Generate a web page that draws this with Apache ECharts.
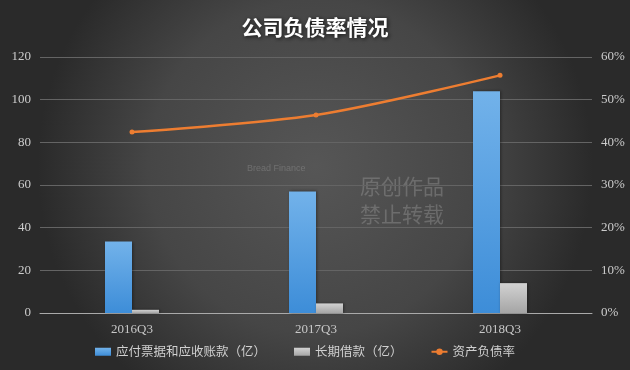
<!DOCTYPE html>
<html><head><meta charset="utf-8">
<script src="https://cdn.jsdelivr.net/npm/echarts@6/dist/echarts.min.js"></script>
<style>html,body{margin:0;padding:0;background:#333}#c{width:630px;height:370px}</style>
</head><body><div id="c"></div>
<script>
const categories = ['2016Q3', '2017Q3', '2018Q3'];
const payables = [33.5, 57, 104];
const longLoans = [1.5, 4.5, 14];
const debtRatio = [42.4, 46.4, 55.7];
const leftTicks = [0, 20, 40, 60, 80, 100, 120];
const rightTicks = [0, 10, 20, 30, 40, 50, 60];

const chart = echarts.init(document.getElementById('c'));
const serif = '"Liberation Serif", "DejaVu Serif", serif';
const cjk = '"Noto Sans CJK SC", sans-serif';
chart.setOption({
  backgroundColor: {
    type: 'radial', x: 0.5, y: 0.45, r: 0.75,
    colorStops: [{offset: 0, color: '#565656'}, {offset: 0.6, color: '#464646'}, {offset: 1, color: '#2a2a2a'}]
  },
  title: {
    text: '公司负债率情况', left: 'center', top: 12,
    textStyle: {color: '#ffffff', fontSize: 21, fontWeight: 'bold', fontFamily: cjk,
      textShadowColor: 'rgba(0,0,0,0.8)', textShadowBlur: 4, textShadowOffsetX: 1, textShadowOffsetY: 1}
  },
  graphic: [
    {type: 'text', left: 360, top: 176, style: {text: '原创作品', fill: 'rgba(170,170,170,0.35)', font: '21px "Noto Sans CJK SC"'}},
    {type: 'text', left: 360, top: 204, style: {text: '禁止转载', fill: 'rgba(170,170,170,0.35)', font: '21px "Noto Sans CJK SC"'}},
    {type: 'text', left: 247, top: 164, style: {text: 'Bread Finance', fill: 'rgba(170,170,170,0.35)', font: '9px "Liberation Sans"'}}
  ],
  legend: {
    bottom: 7, left: 90, itemGap: 28, itemWidth: 16, itemHeight: 8,
    textStyle: {color: '#d0d0d0', fontSize: 12.5, fontFamily: cjk},
    data: [
      {name: '应付票据和应收账款（亿）', icon: 'rect'},
      {name: '长期借款（亿）', icon: 'rect'},
      {name: '资产负债率'}
    ]
  },
  grid: {left: 40, right: 38, top: 57, bottom: 57},
  xAxis: {
    type: 'category', data: categories,
    axisLine: {lineStyle: {color: '#aaaaaa', width: 1}},
    axisTick: {show: false},
    axisLabel: {color: '#c8c8c8', fontSize: 13, fontFamily: serif, margin: 10}
  },
  yAxis: [
    {type: 'value', min: 0, max: 120, interval: 20,
      axisLabel: {color: '#cccccc', fontSize: 13, fontFamily: serif, margin: 9,
        formatter: v => leftTicks.includes(v) ? String(v) : ''},
      splitLine: {lineStyle: {color: '#646464', width: 1}},
      axisLine: {show: false}, axisTick: {show: false}},
    {type: 'value', min: 0, max: 60, interval: 10,
      axisLabel: {color: '#cccccc', fontSize: 13, fontFamily: serif, margin: 9,
        formatter: v => rightTicks.includes(v) ? v + '%' : ''},
      splitLine: {show: false}, axisLine: {show: false}, axisTick: {show: false}}
  ],
  series: [
    {name: '应付票据和应收账款（亿）', type: 'bar', data: payables, barWidth: 27, barGap: '0%',
      itemStyle: {color: {type: 'linear', x: 0, y: 0, x2: 0, y2: 1,
        colorStops: [{offset: 0, color: '#72b2ea'}, {offset: 1, color: '#3d8dd8'}]},
        shadowColor: 'rgba(0,0,0,0.4)', shadowBlur: 3, shadowOffsetX: 1}},
    {name: '长期借款（亿）', type: 'bar', data: longLoans, barWidth: 27,
      itemStyle: {color: {type: 'linear', x: 0, y: 0, x2: 0, y2: 1,
        colorStops: [{offset: 0, color: '#d2d2d2'}, {offset: 1, color: '#a5a5a5'}]},
        shadowColor: 'rgba(0,0,0,0.4)', shadowBlur: 3, shadowOffsetX: 1}},
    {name: '资产负债率', type: 'line', yAxisIndex: 1, data: debtRatio, smooth: 0.3,
      symbol: 'circle', symbolSize: 5,
      lineStyle: {color: '#ed7d31', width: 2.5},
      itemStyle: {color: '#ed7d31'}}
  ]
});
</script></body></html>
